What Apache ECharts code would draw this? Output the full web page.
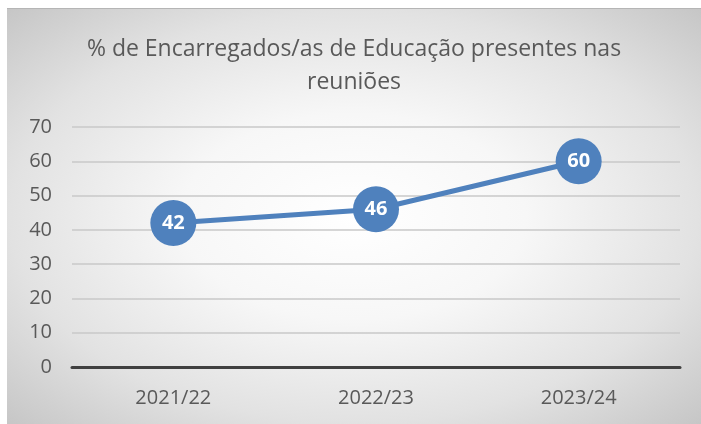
<!DOCTYPE html>
<html>
<head>
<meta charset="utf-8">
<script src="https://cdn.jsdelivr.net/npm/echarts@6/dist/echarts.min.js"></script>
<style>
  html, body { margin: 0; padding: 0; background: #fff; }
  #main {
    position: absolute; left: 7px; top: 8px; width: 694px; height: 416px;
    background: radial-gradient(ellipse farthest-corner at 50% 50%, #ffffff 0%, #f7f7f7 35%, #e2e2e2 70%, #c6c6c6 100%);
    border-top: 1px solid #b5b5b5;
    box-sizing: border-box;
  }
</style>
</head>
<body>
<div id="main"></div>
<script>
var categories = ['2021/22', '2022/23', '2023/24'];
var values = [42, 46, 60];
var titleText = '% de Encarregados/as de Educação presentes nas\nreuniões';

var chart = echarts.init(document.getElementById('main'));
var option = {
    backgroundColor: 'transparent',
    title: {
        text: titleText,
        left: 'center',
        top: 19,
        textStyle: {
            fontFamily: 'Open Sans',
            fontSize: 23,
            fontWeight: 'normal',
            color: '#595959',
            lineHeight: 33
        }
    },
    grid: { left: 65, right: 21, top: 118, bottom: 57 },
    xAxis: {
        type: 'category',
        data: categories,
        boundaryGap: true,
        axisLine: { lineStyle: { color: '#404040', width: 3 } },
        axisTick: { show: false },
        axisLabel: { fontFamily: 'Open Sans', fontSize: 20, color: '#595959', margin: 21 }
    },
    yAxis: {
        type: 'value',
        min: 0,
        max: 70,
        interval: 10,
        axisLine: { show: false },
        axisTick: { show: false },
        splitLine: { lineStyle: { color: '#c8c8c8', width: 1.5 } },
        axisLabel: { fontFamily: 'Open Sans', fontSize: 20, color: '#595959', margin: 20 }
    },
    series: [{
        type: 'line',
        data: values,
        symbol: 'circle',
        symbolSize: 46,
        lineStyle: { color: '#4F81BD', width: 5 },
        itemStyle: { color: '#4F81BD' },
        label: {
            show: true,
            position: 'inside',
            color: '#fff',
            fontFamily: 'Open Sans',
            fontWeight: 'bold',
            fontSize: 20
        },
        animation: false
    }]
};
chart.setOption(option);
</script>
</body>
</html>
